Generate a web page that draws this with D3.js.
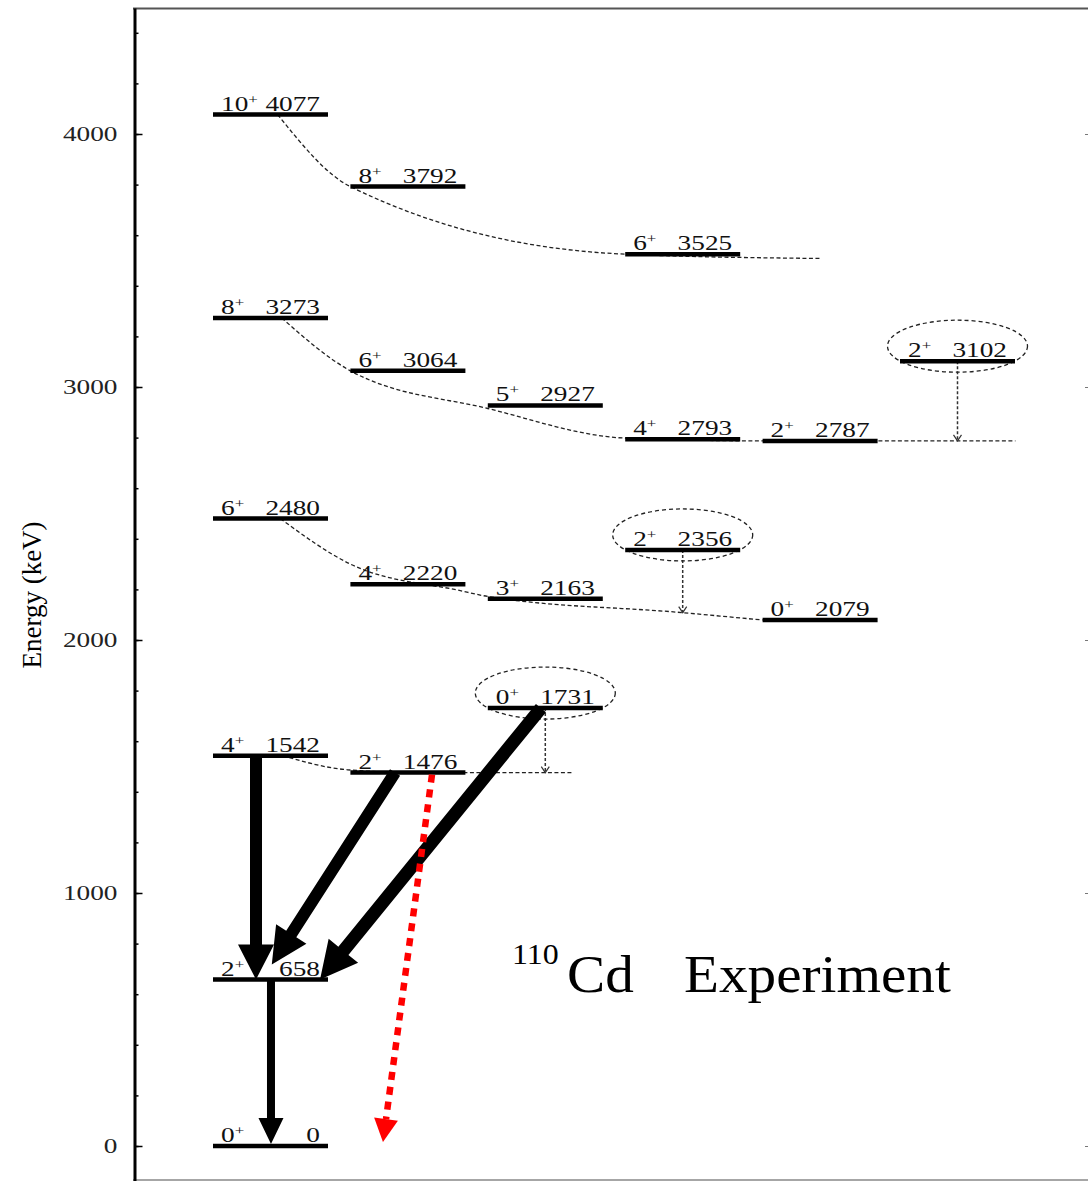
<!DOCTYPE html>
<html>
<head>
<meta charset="utf-8">
<script src="https://cdn.jsdelivr.net/npm/d3@7"></script>
<style>
  body { margin: 0; background: #fff; }
  svg { display: block; font-family: "Liberation Serif", "Times New Roman", serif; }
</style>
</head>
<body>
<svg id="scheme"></svg>
<script>
const width = 1088, height = 1181

// levels of 110Cd: spin, energy (keV), column of the scheme
const levelSpin   = ['0', '2', '4', '2', '0', '6', '4', '3', '2', '0', '8', '6', '5', '4', '2', '2', '10', '8', '6']
const levelEnergy = [0, 658, 1542, 1476, 1731, 2480, 2220, 2163, 2356, 2079, 3273, 3064, 2927, 2793, 2787, 3102, 4077, 3792, 3525]
const levelColumn = [0, 0, 0, 1, 2, 0, 1, 2, 3, 4, 0, 1, 2, 3, 4, 5, 0, 1, 3]
const circledLevels = [1731, 2356, 3102]

// dashed band curves, [column, keV]
const bandGround = [[0.51, 1542], [0.98, 1487], [1.5, 1476], [2.62, 1476]]
const band2480 = [[0.49, 2480], [1.0, 2300], [1.8, 2195], [2.0, 2172], [3.42, 2108], [4.0, 2079]]
const band3273 = [[0.5, 3273], [1.0, 3064], [2.0, 2915], [3.0, 2798], [4.0, 2787], [5.84, 2787]]
const band4077 = [[0.47, 4077], [1.0, 3792], [3.0, 3525], [4.42, 3508]]

// dotted feeders from the circled states down onto a band
const feederFrom = [1731, 2356, 3102]
const feederTo   = [1476, 2108, 2787]

// gamma transitions (keV) and their x positions (column units)
const gammaFrom = [1542, 1476, 1731, 658]
const gammaTo   = [658, 658, 658, 0]
const gammaX0   = [0.313, 1.325, 2.387, 0.422]
const gammaX1   = [0.313, 0.357, 0.779, 0.422]

// the red dotted one
const redFrom = 1476, redTo = 0, redX0 = 1.594, redX1 = 1.237

const majorTicks = [0, 1000, 2000, 3000, 4000]
const minorTicks = d3.range(0, 4500, 200)

// styles
const arrowStyle = [
  { shaft: 12, head: 36, len: 35, gap: 0 },
  { shaft: 12, head: 36, len: 36, gap: 18 },
  { shaft: 13, head: 38, len: 37, gap: 0 },
  { shaft: 8, head: 25, len: 26, gap: 2 }
]
const sx = 1.3        // horizontal stretch of the labels
const labelSize = 21
const barWidth = 115

const svg = d3.select('#scheme')
  .attr('width', width)
  .attr('height', height)

const y = d3.scaleLinear().domain([0, 4000]).range([1146, 134])
const x = d3.scaleLinear().domain([0, 5]).range([213, 900])
const yAxisScale = y.copy().domain([y.invert(1181), y.invert(8)]).range([1181, 8])

// frame
svg.append('line')
  .attr('x1', 133).attr('x2', width).attr('y1', 8.5).attr('y2', 8.5)
  .attr('stroke', '#555').attr('stroke-width', 2)
svg.append('line')
  .attr('x1', 133).attr('x2', width).attr('y1', 1180).attr('y2', 1180)
  .attr('stroke', '#888').attr('stroke-width', 1.5)

// axes
const minorG = svg.append('g')
  .attr('transform', 'translate(134.5,0)')
  .call(d3.axisLeft(yAxisScale).tickValues(minorTicks).tickSize(-4).tickSizeOuter(0).tickFormat(''))
minorG.select('.domain').attr('stroke-width', 3)
minorG.selectAll('.tick line').attr('stroke-width', 1.5)

const majorG = svg.append('g')
  .attr('transform', 'translate(134.5,0)')
  .call(d3.axisLeft(yAxisScale).tickValues(majorTicks).tickSize(-8).tickSizeOuter(0)
    .tickPadding(17).tickFormat(d3.format('d')))
majorG.select('.domain').remove()
majorG.selectAll('.tick line').attr('stroke-width', 1.5)
majorG.selectAll('.tick text')
  .attr('font-size', labelSize)
  .attr('font-family', '"Liberation Serif", serif')
  .attr('fill', '#222')
  .attr('x', -17 / sx)
  .attr('transform', `scale(${sx},1)`)

const rightG = svg.append('g')
  .attr('transform', 'translate(1090,0)')
  .call(d3.axisRight(yAxisScale).tickValues(majorTicks).tickSize(-5).tickFormat(''))
rightG.select('.domain').remove()
rightG.selectAll('.tick line').attr('stroke', '#777')

svg.append('text')
  .attr('transform', `translate(41,595) rotate(-90)`)
  .attr('text-anchor', 'middle')
  .attr('font-size', 27)
  .text('Energy (keV)')

// levels
const levels = levelEnergy.map((e, i) => ({ energy: e, spin: levelSpin[i], col: levelColumn[i] }))
const barW = barWidth / (x(1) - x(0))

// band curves
const bandLine = d3.line()
  .x(d => x(d[0]))
  .y(d => y(d[1]))
  .curve(d3.curveMonotoneX)

svg.append('g').selectAll('path')
  .data([bandGround, band2480, band3273, band4077])
  .join('path')
  .attr('d', bandLine)
  .attr('fill', 'none')
  .attr('stroke', '#222')
  .attr('stroke-width', 1.3)
  .attr('stroke-dasharray', '4,2.5')

// feeders and circles
const findLevel = e => levels.find(l => l.energy === e)
const feeders = feederFrom.map((e, i) => ({ lvl: findLevel(e), to: feederTo[i] }))
const fg = svg.append('g')
fg.selectAll('line')
  .data(feeders)
  .join('line')
  .attr('x1', d => x(d.lvl.col + barW / 2))
  .attr('x2', d => x(d.lvl.col + barW / 2))
  .attr('y1', d => y(d.lvl.energy))
  .attr('y2', d => y(d.to))
  .attr('stroke', '#333')
  .attr('stroke-width', 1.5)
  .attr('stroke-dasharray', '3,2')
fg.selectAll('path')
  .data(feeders)
  .join('path')
  .attr('d', d => {
    const cx = x(d.lvl.col + barW / 2), cy = y(d.to)
    return `M${cx - 4},${cy - 6}L${cx},${cy}L${cx + 4},${cy - 6}`
  })
  .attr('fill', 'none')
  .attr('stroke', '#333')
  .attr('stroke-width', 1.2)

svg.append('g').selectAll('ellipse')
  .data(circledLevels.map(findLevel))
  .join('ellipse')
  .attr('cx', d => x(d.col + barW / 2))
  .attr('cy', d => y(d.energy) - 15)
  .attr('rx', 70)
  .attr('ry', 26)
  .attr('fill', 'none')
  .attr('stroke', '#222')
  .attr('stroke-width', 1.3)
  .attr('stroke-dasharray', '4,3')

// level bars and labels
const lg = svg.append('g').selectAll('g')
  .data(levels)
  .join('g')

lg.append('line')
  .attr('x1', d => x(d.col))
  .attr('x2', d => x(d.col + barW))
  .attr('y1', d => y(d.energy))
  .attr('y2', d => y(d.energy))
  .attr('stroke', '#000')
  .attr('stroke-width', 4.5)

const spinText = lg.append('text')
  .attr('transform', d => `translate(${x(d.col) + 8},${y(d.energy) - 4}) scale(${sx},1)`)
  .attr('font-size', labelSize)
  .attr('fill', '#111')
spinText.append('tspan').text(d => d.spin)
spinText.append('tspan')
  .attr('dy', -7)
  .attr('font-size', 13)
  .text('+')

lg.append('text')
  .attr('transform', d => `translate(${x(d.col + barW) - 8},${y(d.energy) - 4}) scale(${sx},1)`)
  .attr('text-anchor', 'end')
  .attr('font-size', labelSize)
  .attr('fill', '#111')
  .text(d => d.energy)

// thick gamma arrows
function arrowPoly(x0, y0, x1, y1, s) {
  const dx = x1 - x0, dy = y1 - y0, L = Math.hypot(dx, dy)
  const ux = dx / L, uy = dy / L, nx = -uy, ny = ux
  const tx = x1 - ux * s.gap, ty = y1 - uy * s.gap
  const bx = tx - ux * s.len, by = ty - uy * s.len
  const w = s.shaft / 2, h = s.head / 2
  return [
    [x0 + nx * w, y0 + ny * w], [bx + nx * w, by + ny * w], [bx + nx * h, by + ny * h],
    [tx, ty],
    [bx - nx * h, by - ny * h], [bx - nx * w, by - ny * w], [x0 - nx * w, y0 - ny * w]
  ]
}

const gammas = gammaFrom.map((e, i) => ({
  x0: x(gammaX0[i]), y0: y(e), x1: x(gammaX1[i]), y1: y(gammaTo[i]), s: arrowStyle[i]
}))

svg.append('g').selectAll('polygon')
  .data(gammas)
  .join('polygon')
  .attr('points', d => arrowPoly(d.x0, d.y0, d.x1, d.y1, d.s).map(p => p.join(',')).join(' '))
  .attr('fill', '#000')

// red dotted arrow
{
  const x0 = x(redX0), y0 = y(redFrom) + 2, x1 = x(redX1), y1 = y(redTo) - 4
  const L = Math.hypot(x1 - x0, y1 - y0), ux = (x1 - x0) / L, uy = (y1 - y0) / L
  const headLen = 23, headW = 24
  const bx = x1 - ux * headLen, by = y1 - uy * headLen
  svg.append('line')
    .attr('x1', x0).attr('y1', y0).attr('x2', bx).attr('y2', by)
    .attr('stroke', '#f00')
    .attr('stroke-width', 6.5)
    .attr('stroke-dasharray', '8,7')
  svg.append('polygon')
    .attr('points', [[x1, y1], [bx - uy * headW / 2, by + ux * headW / 2], [bx + uy * headW / 2, by - ux * headW / 2]]
      .map(p => p.join(',')).join(' '))
    .attr('fill', '#f00')
}

// title
svg.append('text')
  .attr('transform', `translate(512,964) scale(1.1,1)`)
  .attr('font-size', 29)
  .text('110')
svg.append('text')
  .attr('transform', `translate(567,992) scale(1.1,1)`)
  .attr('font-size', 52)
  .text('Cd')
svg.append('text')
  .attr('transform', `translate(684,992) scale(1.1,1)`)
  .attr('font-size', 52)
  .text('Experiment')
</script>
</body>
</html>
